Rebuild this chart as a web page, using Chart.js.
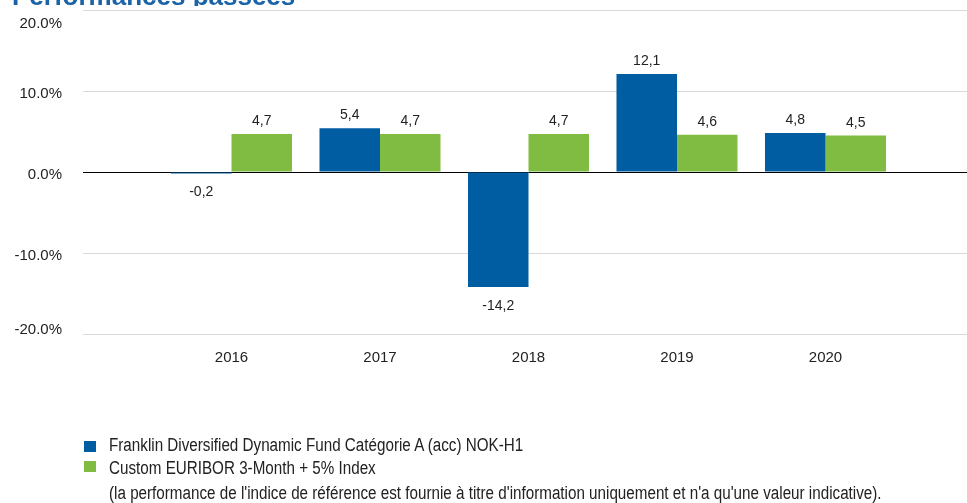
<!DOCTYPE html>
<html>
<head>
<meta charset="utf-8">
<script src="https://cdn.jsdelivr.net/npm/chart.js@4.4.0/dist/chart.umd.min.js"></script>
<style>
    html, body { margin: 0; padding: 0; background: #fff; }
    #wrap { position: relative; width: 967px; height: 503px; overflow: hidden; }
    #chart { position: absolute; left: 0; top: 0; }
    .title { position: absolute; left: 12px; top: 0; height: 6px; overflow: hidden; }
    .title span { display: block; margin-top: -19px; font: bold 26px 'Liberation Sans', Arial, sans-serif; color: #1a63a6; white-space: nowrap; line-height: 30px; }
    .legend { position: absolute; left: 0; top: 0; font-family: 'Liberation Sans', Arial, sans-serif; font-size: 18px; color: #222; white-space: nowrap; }
    .legend .box { position: absolute; left: 84px; width: 12px; height: 11px; }
    .legend .txt { position: absolute; left: 109px; height: 20px; line-height: 20px; transform: scaleX(0.845); transform-origin: left center; }
</style>
</head>
<body>
<div id="wrap">
    <canvas id="chart" width="980" height="503"></canvas>
    <div class="title"><span>Performances passées</span></div>
    <div class="legend">
        <div class="box" style="top:441px;background:#005DA2"></div>
        <div class="txt" style="top:435px">Franklin Diversified Dynamic Fund Catégorie A (acc) NOK-H1</div>
        <div class="box" style="top:461px;background:#80BC41"></div>
        <div class="txt" style="top:458px">Custom EURIBOR 3-Month + 5% Index</div>
        <div class="txt" style="top:483px">(la performance de l'indice de référence est fournie à titre d'information uniquement et n'a qu'une valeur indicative).</div>
    </div>
</div>
<script>
// ==========================================
// DONNÉES
// ==========================================
const years = ['', '2016', '2017', '2018', '2019', '2020', ''];
const fundValues = [null, -0.2, 5.4, -14.2, 12.1, 4.8, null];
const indexValues = [null, 4.7, 4.7, 4.7, 4.6, 4.5, null];
const yTicks = [-20, -10, 0, 10, 20];

const fundColor = '#005DA2';
const indexColor = '#80BC41';
const baseFont = "'Liberation Sans', Arial, sans-serif";

// étiquettes de valeur au-dessus / en dessous des barres
const valueLabels = {
    id: 'valueLabels',
    afterDatasetsDraw(chart) {
        const ctx = chart.ctx;
        ctx.save();
        ctx.font = '14px ' + baseFont;
        ctx.fillStyle = '#222';
        ctx.textAlign = 'center';
        chart.data.datasets.forEach((ds, i) => {
            chart.getDatasetMeta(i).data.forEach((bar, j) => {
                const v = ds.data[j];
                if (v === null || v === undefined) return;
                const txt = v.toFixed(1).replace('.', ',');
                if (v >= 0) {
                    ctx.textBaseline = 'alphabetic';
                    ctx.fillText(txt, bar.x, bar.y - 9);
                } else {
                    ctx.textBaseline = 'top';
                    ctx.fillText(txt, bar.x, bar.y + 12);
                }
            });
        });
        ctx.restore();
    }
};

new Chart(document.getElementById('chart'), {
    type: 'bar',
    data: {
        labels: years,
        datasets: [
            { label: 'Franklin Diversified Dynamic Fund Catégorie A (acc) NOK-H1', data: fundValues, backgroundColor: fundColor },
            { label: 'Custom EURIBOR 3-Month + 5% Index', data: indexValues, backgroundColor: indexColor }
        ]
    },
    options: {
        responsive: false,
        animation: false,
        layout: { padding: { top: 10, right: 6, bottom: 129, left: 0 } },
        plugins: { legend: { display: false }, tooltip: { enabled: false } },
        datasets: { bar: { barPercentage: 1, categoryPercentage: 0.815 } },
        scales: {
            x: {
                offset: false,
                grid: { display: false },
                border: { display: false },
                ticks: { color: '#222', font: { family: baseFont, size: 15 }, padding: 7, maxRotation: 0, autoSkip: false },
                afterFit: (s) => { s.height = 40; s.paddingLeft = 0; s.paddingRight = 0; }
            },
            y: {
                min: -20,
                max: 20,
                afterBuildTicks: (s) => { s.ticks = yTicks.map(v => ({ value: v })); },
                grid: {
                    drawTicks: false,
                    color: (c) => c.tick && c.tick.value === 0 ? '#000' : '#d9d9d9',
                    lineWidth: 1
                },
                border: { display: false },
                ticks: {
                    color: '#222',
                    // les libellés extrêmes restent dans la zone du graphique
                    font: (c) => {
                        const v = c.tick ? c.tick.value : 0;
                        const lh = v === 20 ? 22 : (v === -20 ? 14 : 18);
                        return { family: baseFont, size: 15, lineHeight: lh + 'px' };
                    },
                    padding: 21,
                    labelOffset: 3,
                    callback: (v) => {
                        const txt = v.toFixed(1) + '%';
                        if (v === 20) return ['', txt];
                        if (v === -20) return [txt, ''];
                        return txt;
                    }
                },
                afterFit: (s) => { s.width = 83; s.paddingTop = 0; s.paddingBottom = 0; }
            }
        }
    },
    plugins: [valueLabels]
});
</script>
</body>
</html>
